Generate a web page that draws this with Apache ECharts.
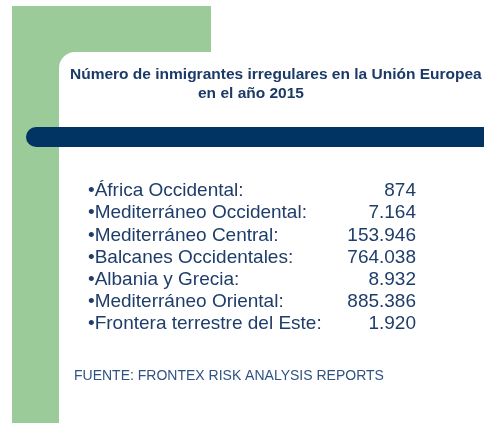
<!DOCTYPE html>
<html lang="es">
<head>
    <meta charset="UTF-8">
    <title>Inmigrantes irregulares UE 2015</title>
    <script src="https://cdn.jsdelivr.net/npm/echarts@6/dist/echarts.min.js"></script>
    <style>
        html, body { margin: 0; padding: 0; background: #fff; }
        #main { width: 484px; height: 423px; }
    </style>
</head>
<body>
<div id="main"></div>
<script>
    var rutas = ['África Occidental', 'Mediterráneo Occidental', 'Mediterráneo Central',
        'Balcanes Occidentales', 'Albania y Grecia', 'Mediterráneo Oriental', 'Frontera terrestre del Este'];
    var inmigrantes = [874, 7164, 153946, 764038, 8932, 885386, 1920];
    var titulo1 = 'Número de inmigrantes irregulares en la Unión Europea';
    var titulo2 = 'en el año 2015';
    var fuente = 'FUENTE: FRONTEX RISK ANALYSIS REPORTS';

    // miles con punto, como en el original
    function fmt(v) {
        return String(v).replace(/\B(?=(\d{3})+(?!\d))/g, '.');
    }

    var azul = '#1f3d6b';
    var myChart = echarts.init(document.getElementById('main'));

    var option = {
        backgroundColor: '#fff',
        animation: false,
        title: [{
            text: titulo1, left: 65, top: 62,
            textStyle: {color: '#1b3a68', fontFamily: 'Liberation Sans', fontSize: 15.5, fontWeight: 'bold'}
        }, {
            text: titulo2, left: 193, top: 81,
            textStyle: {color: '#1b3a68', fontFamily: 'Liberation Sans', fontSize: 15.5, fontWeight: 'bold'}
        }],
        graphic: [
            {type: 'rect', z: -10, shape: {x: 12, y: 6, width: 199, height: 417}, style: {fill: '#9bcb98'}},
            {type: 'rect', z: -9, shape: {x: 59, y: 52, width: 460, height: 380, r: [16, 0, 0, 0]}, style: {fill: '#fff'}},
            {type: 'rect', z: -8, shape: {x: 26, y: 127, width: 480, height: 20, r: [10, 0, 0, 10]}, style: {fill: '#023463'}},
            {type: 'text', left: 74, top: 369, style: {text: fuente, fill: '#2f5283', font: '14px "Liberation Sans"'}}
        ],
        grid: {left: 88, right: 68, top: 180, bottom: 88},
        xAxis: {type: 'value', show: false},
        yAxis: [{
            type: 'category', data: rutas, inverse: true, position: 'left',
            axisLine: {show: false}, axisTick: {show: false},
            axisLabel: {
                inside: true, margin: 0, interval: 0, color: azul, fontFamily: 'Liberation Sans', fontSize: 19,
                formatter: function (v) { return '•' + v + ':'; }
            }
        }, {
            type: 'category', data: inmigrantes.map(fmt), inverse: true, position: 'right',
            axisLine: {show: false}, axisTick: {show: false},
            axisLabel: {inside: true, margin: 0, interval: 0, color: azul, fontFamily: 'Liberation Sans', fontSize: 19}
        }],
        series: [{
            type: 'bar', data: inmigrantes, yAxisIndex: 0,
            itemStyle: {opacity: 0}, silent: true
        }]
    };

    myChart.setOption(option);
</script>
</body>
</html>
